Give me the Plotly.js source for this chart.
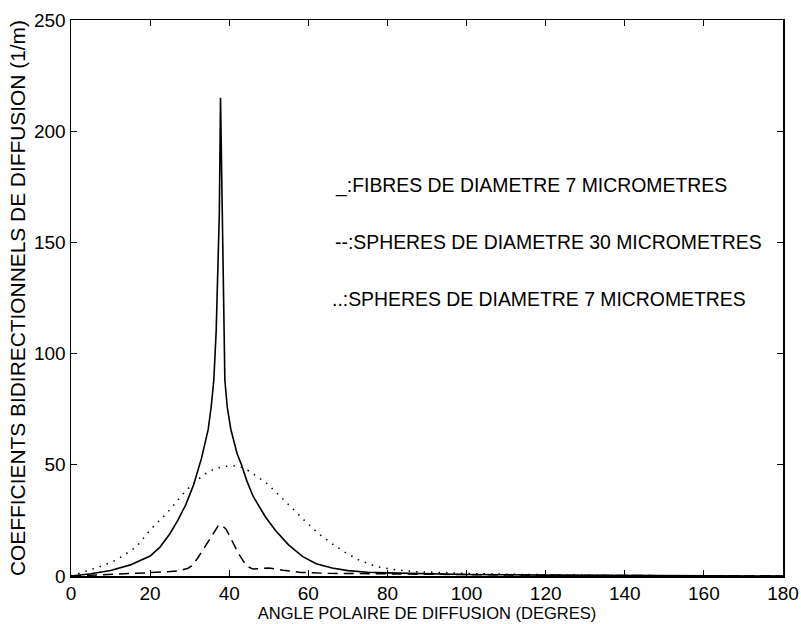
<!DOCTYPE html>
<html>
<head>
<meta charset="utf-8">
<script src="https://cdn.plot.ly/plotly-3.0.1.min.js"></script>
<style>html,body{margin:0;padding:0;background:#fff;}#chart{width:801px;height:624px;}</style>
</head>
<body>
<div id="chart"></div>
<script>
// Fibres de diametre 7 micrometres (solid)
const fibresX = [0, 5, 10, 15, 20, 22.5, 25, 27, 29, 31, 33, 34.7, 35.5, 36.1, 36.7, 37.2, 37.5, 37.8, 38.2, 38.5, 38.9, 39.5, 40.4, 42, 43.1, 44.4, 46, 49, 51.6, 55, 58.6, 62, 66, 70, 75, 80, 90, 100, 120, 140, 160, 180];
const fibresY = [0, 1, 2.5, 5, 9, 13, 19, 25, 32, 41, 53, 66, 77, 88, 110, 140, 163, 215, 160, 120, 88, 76, 66, 55, 50, 43, 36, 27, 20.7, 14, 8.7, 5.5, 3.6, 2.4, 1.7, 1.4, 1, 0.7, 0.4, 0.2, 0.1, 0];
// Spheres de diametre 30 micrometres (dashed)
const sph30X = [0, 5, 10, 15, 20, 25, 27.5, 29.6, 30.5, 32, 33.9, 35.5, 37.2, 38, 39.2, 40.2, 42.3, 44.4, 46, 48, 50, 53.6, 58, 65, 75, 85, 100, 120, 140, 160, 180];
const sph30Y = [0, 0.3, 0.6, 0.9, 1.5, 2, 2.4, 3.5, 4.5, 8, 13.2, 18, 22.5, 23, 21, 17.7, 10.2, 4.5, 3.1, 3.4, 3.6, 2.6, 1.6, 1.2, 1, 0.8, 0.5, 0.3, 0.2, 0.1, 0];
// Spheres de diametre 7 micrometres (dotted)
const sph7X = [0, 1.4, 4, 7.3, 11.5, 16.6, 20, 24.2, 29.2, 33.4, 36, 38.5, 41, 43, 45.2, 49.5, 52.8, 55.4, 59, 62.5, 66, 69.7, 73, 77.3, 82, 87.4, 95, 100, 110, 120, 140, 160, 180];
const sph7Y = [0, 0.8, 2.3, 4.2, 7.2, 13.2, 20.7, 28.2, 38.7, 45.4, 48, 49.2, 49.6, 49, 47, 41.7, 36, 31.2, 25, 19.2, 14.5, 10.2, 7, 4.2, 2.8, 1.9, 1.3, 1.1, 0.8, 0.5, 0.2, 0.1, 0];

const legendTexts = [
  '_:FIBRES DE DIAMETRE 7 MICROMETRES',
  '--:SPHERES DE DIAMETRE 30 MICROMETRES',
  '..:SPHERES DE DIAMETRE 7 MICROMETRES'
];
const legendPosX = [66.2, 66.2, 65.5];
const legendPosY = [175.4, 150.2, 124.5];

const FONT = 'Liberation Sans, Arial, Helvetica, sans-serif';

const traces = [
  {x: fibresX, y: fibresY, type: 'scatter', mode: 'lines', line: {color: '#000', width: 1.6}, showlegend: false},
  {x: sph30X, y: sph30Y, type: 'scatter', mode: 'lines', line: {color: '#000', width: 1.5, dash: '10px,6px'}, showlegend: false},
  {x: sph7X, y: sph7Y, type: 'scatter', mode: 'lines', line: {color: '#000', width: 1.5, dash: '1.5px,6px'}, showlegend: false}
];

const annotations = legendTexts.map((t, i) => ({
  x: legendPosX[i], y: legendPosY[i], xref: 'x', yref: 'y',
  text: t, showarrow: false, xanchor: 'left', yanchor: 'middle',
  font: {family: FONT, size: 19.4, color: '#000'}
}));

const axisCommon = {
  showgrid: false, zeroline: false, showline: true, mirror: 'ticks',
  linecolor: '#000', linewidth: 1.5, ticks: 'inside', ticklen: 6, tickwidth: 1.2, tickcolor: '#000',
  tickfont: {family: FONT, size: 19, color: '#000'}
};

const layout = {
  width: 801, height: 624,
  margin: {l: 71, r: 18, t: 20, b: 48},
  paper_bgcolor: '#fff', plot_bgcolor: '#fff',
  showlegend: false,
  xaxis: Object.assign({}, axisCommon, {
    range: [0, 180], tick0: 0, dtick: 20,
    title: {text: 'ANGLE POLAIRE DE DIFFUSION (DEGRES)', font: {family: FONT, size: 16.5, color: '#000'}, standoff: 0}
  }),
  yaxis: Object.assign({}, axisCommon, {
    range: [0, 250], tick0: 0, dtick: 50,
    title: {text: 'COEFFICIENTS BIDIRECTIONNELS DE DIFFUSION (1/m)', font: {family: FONT, size: 20.9, color: '#000'}, standoff: 2}
  }),
  annotations: annotations
};

Plotly.newPlot('chart', traces, layout, {displayModeBar: false, staticPlot: true});
</script>
</body>
</html>
